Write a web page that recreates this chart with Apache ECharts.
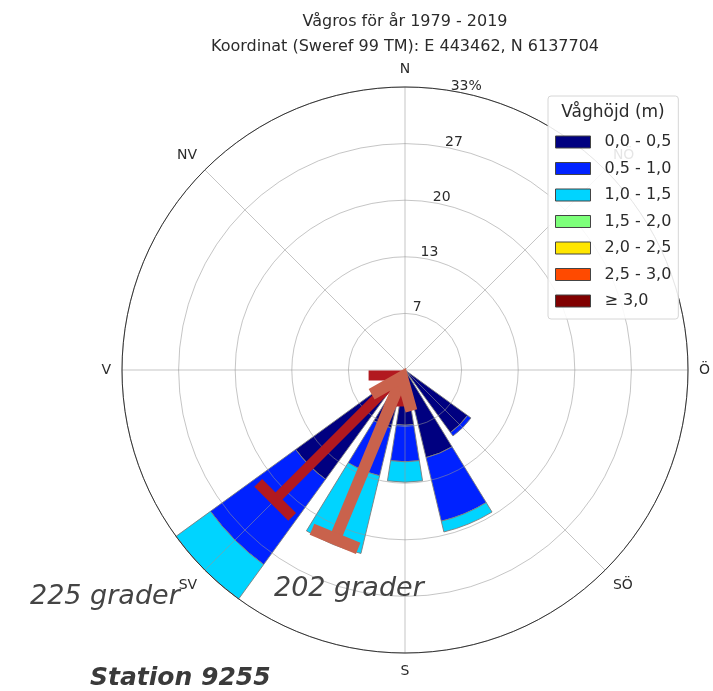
<!DOCTYPE html>
<html>
<head>
<meta charset="utf-8">
<script src="https://cdn.jsdelivr.net/npm/echarts@6/dist/echarts.min.js"></script>
<style>
  html, body { margin: 0; padding: 0; background: #ffffff; }
  #chart { width: 713px; height: 691px; }
</style>
</head>
<body>
<div id="chart"></div>
<script>
// Compass sectors, clockwise from north (22.5° each)
const directions = ['N', 'NNÖ', 'NÖ', 'ÖNÖ', 'Ö', 'ÖSÖ', 'SÖ', 'SSÖ', 'S', 'SSV', 'SV', 'VSV', 'V', 'VNV', 'NV', 'NNV'];

// Wave height classes (m)
const heightClasses = ['0,0 - 0,5', '0,5 - 1,0', '1,0 - 1,5', '1,5 - 2,0', '2,0 - 2,5', '2,5 - 3,0', '≥ 3,0'];

// Frequency (% of time) per direction, one array per wave height class
const freq00to05 = [0, 0, 0, 0, 0, 0, 9.1, 10.6, 6.5, 7.0, 15.9, 0, 0, 0, 0, 0];
const freq05to10 = [0, 0, 0, 0, 0, 0, 0.5, 7.7, 4.3, 5.8, 12.4, 0, 0, 0, 0, 0];
const freq10to15 = [0, 0, 0, 0, 0, 0, 0, 1.3, 2.4, 9.4, 5.0, 0, 0, 0, 0, 0];
const freq15to20 = [0, 0, 0, 0, 0, 0, 0, 0, 0, 0, 0, 0, 0, 0, 0, 0];
const freq20to25 = [0, 0, 0, 0, 0, 0, 0, 0, 0, 0, 0, 0, 0, 0, 0, 0];
const freq25to30 = [0, 0, 0, 0, 0, 0, 0, 0, 0, 0, 0, 0, 0, 0, 0, 0];
const freq30up   = [0, 0, 0, 0, 0, 0, 0, 0, 0, 0, 0, 0, 0, 0, 0, 0];

// Radial scale (%) and its ring labels
const radialMax = 33.3;
const radialTickLabels = ['7', '13', '20', '27', '33%'];

// Highlighted wave directions (degrees) drawn as arrows towards the centre
const arrowAngles = [225, 202.5];
const arrowTailRadius = [21.6, 21.5];
const arrowTipRadius = [0.9, 0.9];
const arrowTexts = ['225 grader', '202 grader'];

const titleLines = ['Vågros för år 1979 - 2019', 'Koordinat (Sweref 99 TM): E 443462, N 6137704'];
const legendTitle = 'Våghöjd (m)';
const stationText = 'Station 9255';

const FONT = "'DejaVu Sans', sans-serif";
const CENTER = [405, 370];
const RADIUS = 283;
const classColors = ['#000080', '#0022ff', '#00d4ff', '#7dff7a', '#ffe600', '#ff4a00', '#800000'];
const arrowStyles = [
  { color: '#b2191f', shaft: 10, barLen: 48, barWidth: 11, headLen: 31, headAngle: 45 },
  { color: '#c9624c', shaft: 12, barLen: 50, barWidth: 12, headLen: 35, headAngle: 38 }
];

const classData = [freq00to05, freq05to10, freq10to15, freq15to20, freq20to25, freq25to30, freq30up];

const barSeries = heightClasses.map((name, i) => ({
  type: 'bar',
  name: name,
  coordinateSystem: 'polar',
  polarIndex: 0,
  stack: 'waves',
  barCategoryGap: '20%',
  data: classData[i].map(v => (v > 0 ? v : null)),
  itemStyle: { color: classColors[i], borderColor: 'rgba(125,125,125,0.9)', borderWidth: 1 },
  emphasis: { disabled: true },
  z: 2
}));

function renderArrow(params, api) {
  const st = arrowStyles[params.dataIndex];
  const tail = api.coord([api.value(0), api.value(1)]);
  const tip = api.coord([api.value(2), api.value(1)]);
  const dx = tip[0] - tail[0], dy = tip[1] - tail[1];
  const len = Math.sqrt(dx * dx + dy * dy);
  const ux = dx / len, uy = dy / len;
  const px = -uy, py = ux;
  const a = st.headAngle * Math.PI / 180;
  const rot = (x, y, t) => [x * Math.cos(t) - y * Math.sin(t), x * Math.sin(t) + y * Math.cos(t)];
  const h1 = rot(ux, uy, a), h2 = rot(ux, uy, -a);
  const line = (pts, w) => ({
    type: 'polyline',
    shape: { points: pts },
    style: { stroke: st.color, lineWidth: w, fill: null, lineCap: 'butt', lineJoin: 'miter' }
  });
  return {
    type: 'group',
    children: [
      line([tail, tip], st.shaft),
      line([[tail[0] + px * st.barLen / 2, tail[1] + py * st.barLen / 2],
            [tail[0] - px * st.barLen / 2, tail[1] - py * st.barLen / 2]], st.barWidth),
      line([[tip[0] - h1[0] * st.headLen, tip[1] - h1[1] * st.headLen],
            tip,
            [tip[0] - h2[0] * st.headLen, tip[1] - h2[1] * st.headLen]], st.shaft)
    ]
  };
}

const gridLine = { color: 'rgba(150,150,150,0.55)', width: 1 };

const option = {
  animation: false,
  backgroundColor: '#ffffff',
  polar: [
    { center: CENTER, radius: RADIUS },
    { center: CENTER, radius: RADIUS },
    { center: CENTER, radius: RADIUS }
  ],
  angleAxis: [
    { polarIndex: 0, type: 'category', data: directions, startAngle: 90 + 11.25, clockwise: true, boundaryGap: true, show: false },
    {
      polarIndex: 1, type: 'value', min: 0, max: 360, interval: 45, startAngle: 90, clockwise: true, z: 3,
      axisLine: { show: true, lineStyle: { color: '#333', width: 1 } },
      axisTick: { show: false },
      splitLine: { show: true, lineStyle: gridLine },
      axisLabel: {
        margin: 11, color: '#2b2b2b', fontSize: 14, fontFamily: FONT,
        formatter: v => (v >= 360 ? '' : directions[Math.round(v / 22.5)])
      }
    },
    { polarIndex: 2, type: 'value', min: 0, max: 360, startAngle: 77.5, clockwise: true, show: false }
  ],
  radiusAxis: [
    { polarIndex: 0, type: 'value', min: 0, max: radialMax, show: false },
    {
      polarIndex: 1, type: 'value', min: 0, max: radialMax, interval: radialMax / 5, z: 3,
      axisLine: { show: false }, axisTick: { show: false }, axisLabel: { show: false },
      splitLine: { show: true, lineStyle: gridLine }
    },
    {
      polarIndex: 2, type: 'value', min: 0, max: radialMax, interval: radialMax / 5, z: 3,
      axisLine: { show: false }, axisTick: { show: false }, splitLine: { show: false },
      axisLabel: {
        margin: 0, color: '#2b2b2b', fontSize: 14, fontFamily: FONT,
        align: 'center', verticalAlign: 'bottom',
        formatter: (v, i) => (i === 0 ? '' : radialTickLabels[i - 1])
      }
    }
  ],
  legend: {
    orient: 'vertical', left: 548, top: 96,
    padding: [38, 7, 10, 7],
    itemWidth: 35, itemHeight: 12, itemGap: 10.5,
    icon: 'rect', selectedMode: false,
    backgroundColor: 'rgba(255,255,255,0.88)',
    borderColor: '#d6d6d6', borderWidth: 1, borderRadius: 3,
    itemStyle: { borderColor: '#444', borderWidth: 1 },
    textStyle: { fontSize: 16, color: '#2b2b2b', fontFamily: FONT, lineHeight: 16, padding: [0, 0, 0, 9] },
    data: heightClasses,
    z: 6
  },
  graphic: [
    { type: 'text', x: 405, y: 22, z: 100, style: { text: titleLines[0], fontSize: 16, fontFamily: FONT, fill: '#2b2b2b', align: 'center', verticalAlign: 'middle' } },
    { type: 'text', x: 405, y: 47, z: 100, style: { text: titleLines[1], fontSize: 16, fontFamily: FONT, fill: '#2b2b2b', align: 'center', verticalAlign: 'middle' } },
    { type: 'text', x: 613, y: 113, z: 100, style: { text: legendTitle, fontSize: 17, fontFamily: FONT, fill: '#2b2b2b', align: 'center', verticalAlign: 'middle' } },
    { type: 'text', x: 30, y: 597, z: 100, style: { text: arrowTexts[0], fontSize: 27, fontStyle: 'italic', fontFamily: FONT, fill: '#444', align: 'left', verticalAlign: 'middle' } },
    { type: 'text', x: 274, y: 589, z: 100, style: { text: arrowTexts[1], fontSize: 27, fontStyle: 'italic', fontFamily: FONT, fill: '#444', align: 'left', verticalAlign: 'middle' } },
    { type: 'text', x: 90, y: 678, z: 100, style: { text: stationText, fontSize: 25, fontStyle: 'italic', fontWeight: 'bold', fontFamily: FONT, fill: '#3a3a3a', align: 'left', verticalAlign: 'middle' } }
  ],
  series: barSeries.concat([{
    type: 'custom',
    coordinateSystem: 'polar',
    polarIndex: 1,
    silent: true,
    z: 10,
    data: arrowAngles.map((a, i) => [arrowTailRadius[i], a, arrowTipRadius[i]]),
    renderItem: renderArrow
  }])
};

const chart = echarts.init(document.getElementById('chart'), null, { renderer: 'canvas' });
chart.setOption(option);
</script>
</body>
</html>
